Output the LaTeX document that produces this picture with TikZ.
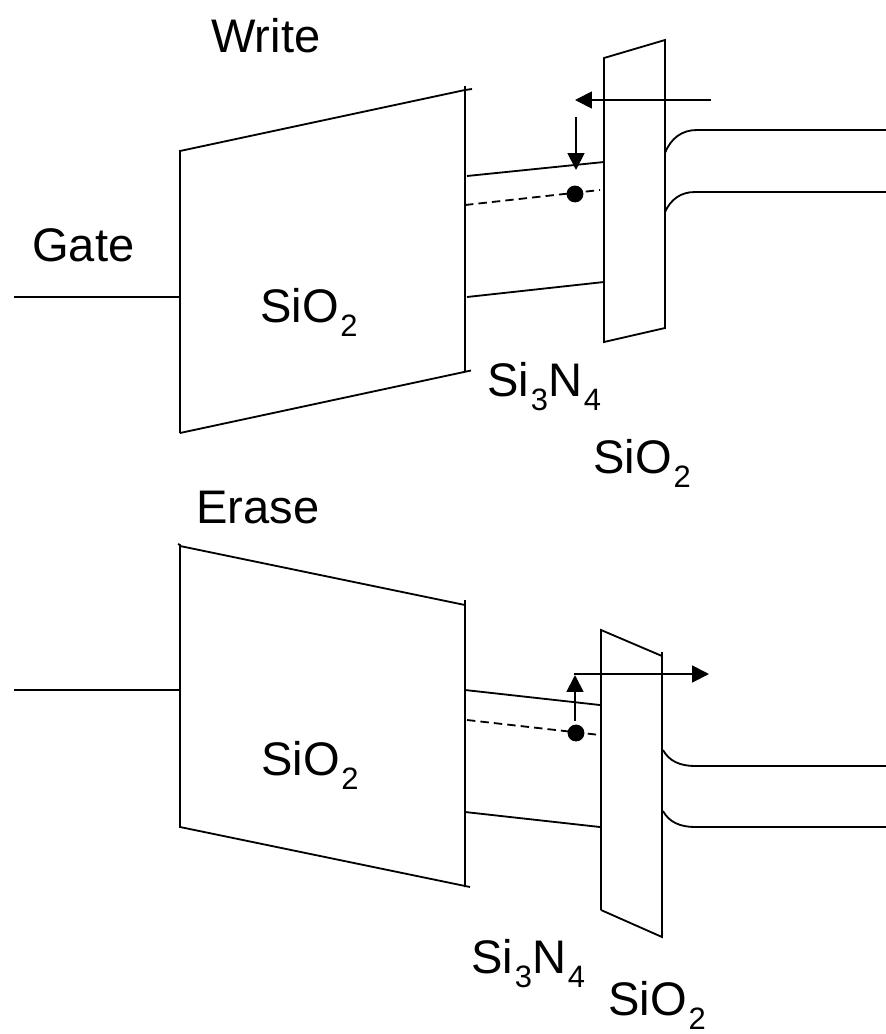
\documentclass[tikz,border=0pt]{standalone}
\usepackage{fontspec}
\setmainfont{Liberation Sans}
\usepackage{xcolor}
\usepackage{tikz}
\usetikzlibrary{arrows.meta,positioning,calc}
\newcommand{\lowered}[1]{\kern1.2pt\raisebox{-10pt}{\fontsize{22}{24}\selectfont #1}}
\tikzset{
    band/.style={line width=1.3pt, black},
    trap/.style={band, dash pattern=on 6pt off 3.6pt},
    carrier/.style={band, -{Triangle[length=12pt,width=12pt]}},
    electron/.style={circle, fill=black, inner sep=0pt, minimum size=12pt},
    label/.style={font=\fontsize{33.5}{38}\selectfont, inner sep=0pt, anchor=base west}
}

\begin{document}
\begin{tikzpicture}[x=0.025cm, y=-0.025cm]
    \useasboundingbox (0,0) rectangle (886,1034);

    % Write: gate and gate oxide
    \draw[band] (14,297) -- (180,297);
    \draw[band] (472,89) -- (465,90) (180,433) -- (180,151) -- (465,90) (465,86) -- (465,372) (471,370.5) -- (180,433);
    % Write: nitride
    \draw[band] (467,176) -- (604,162);
    \draw[trap] (465,205) -- (600,190);
    \draw[band] (467,297) -- (604,282);
    % Write: tunnel oxide
    \draw[band] (604,342) -- (604,58) -- (665,40) -- (665,328) -- cycle;
    % Write: channel
    \draw[band] (665,153) .. controls (671,138) and (682,130) .. (697,130) -- (886,130);
    \draw[band] (665,212) .. controls (671,199) and (681,192) .. (695,192) -- (886,192);
    % Write: carrier
    \node[electron] (e1) at (575,194) {};
    \coordinate (w1) at (711,100);
    \coordinate (w2) at (575,100);
    \coordinate (w3) at (576,117);
    \coordinate (w4) at (576,170);
    \draw[carrier] (w1) -- (w2);
    \draw[carrier] (w3) -- (w4);

    % Erase: gate and gate oxide
    \draw[band] (14,690) -- (180,690);
    \draw[band] (178,544) -- (180,545) -- (180,827) -- (470,887) (180,546) -- (465,605) (465,600) -- (465,887);
    % Erase: nitride
    \draw[band] (465,690) -- (600,705);
    \draw[trap] (467,720) -- (600,735);
    \draw[band] (465,812) -- (600,827);
    % Erase: tunnel oxide
    \draw[band] (601,910) -- (601,630) -- (662,656);
    \draw[band] (662,652) -- (662,937) -- (601,910);
    % Erase: channel
    \draw[band] (663,750) .. controls (669,761) and (680,766) .. (695,766) -- (886,766);
    \draw[band] (663,811) .. controls (669,822) and (680,827) .. (695,827) -- (886,827);
    % Erase: carrier
    \node[electron] (e2) at (576,733) {};
    \coordinate (r1) at (575,721);
    \coordinate (r2) at (575,675);
    \coordinate (r3) at (574,674);
    \coordinate (r4) at (709,674);
    \draw[carrier] (r1) -- (r2);
    \draw[carrier] (r3) -- (r4);

    % Labels
    \node[label] (write) at (211,52) {Write};
    \node[label] (gate) at (32,261) {Gate};
    \node[label] (ox1) at (260,322) {SiO\lowered{2}};
    \node[label] (sn1) at (487,396) {Si\lowered{3}N\lowered{4}};
    \node[label] (ox2) at (593,473) {SiO\lowered{2}};
    \node[label] (erase) at (196,523) {Erase};
    \node[label] (ox3) at (261,775) {SiO\lowered{2}};
    \node[label] (sn2) at (471,973) {Si\lowered{3}N\lowered{4}};
    \node[label] (ox4) at (608,1015) {SiO\lowered{2}};
\end{tikzpicture}
\end{document}
